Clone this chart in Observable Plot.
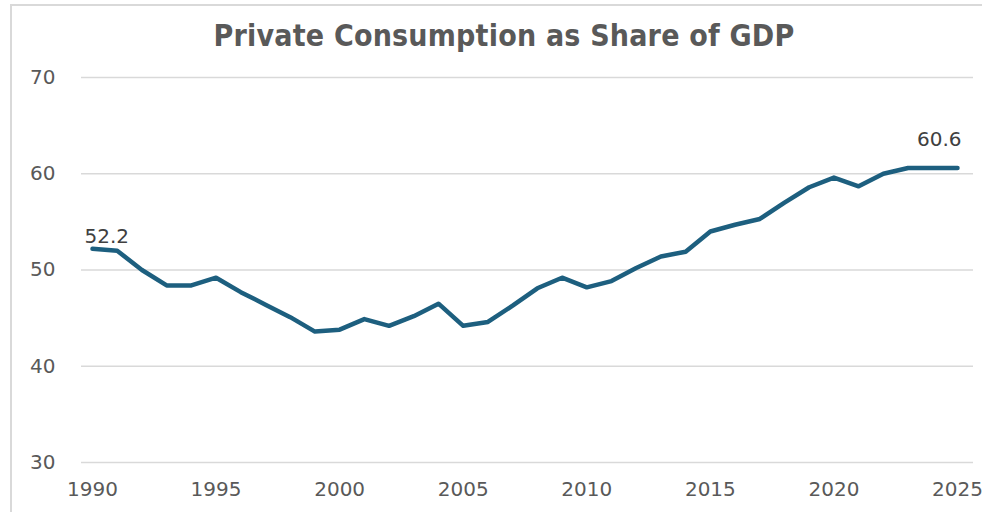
<!DOCTYPE html>
<html>
<head>
<meta charset="utf-8">
<script src="https://cdn.jsdelivr.net/npm/d3@7"></script>
<script src="https://cdn.jsdelivr.net/npm/@observablehq/plot@0.6"></script>
<style>
  html, body { margin: 0; padding: 0; background: #fff; }
  #wrap { position: relative; width: 982px; height: 512px; overflow: hidden; background: #fff; }
  #frame { position: absolute; left: 10px; top: 4px; right: -2px; bottom: -2px;
           border-top: 2px solid #d9d9d9; border-left: 2px solid #d9d9d9; }
  #title { position: absolute; left: 0; width: 1008px; top: 18px; text-align: center;
           font-family: "Liberation Sans Narrow", "DejaVu Sans Condensed", "Liberation Sans", sans-serif;
           font-weight: bold; font-size: 30px; letter-spacing: 0.2px; color: #595959; white-space: nowrap; }
  #chart { position: absolute; left: 0; top: 0; }
</style>
</head>
<body>
<div id="wrap">
  <div id="frame"></div>
  <div id="chart"></div>
  <div id="title">Private Consumption as Share of GDP</div>
</div>
<script>
const years = [1990,1991,1992,1993,1994,1995,1996,1997,1998,1999,
               2000,2001,2002,2003,2004,2005,2006,2007,2008,2009,
               2010,2011,2012,2013,2014,2015,2016,2017,2018,2019,
               2020,2021,2022,2023,2024,2025];
const share = [52.2,52.0,50.0,48.4,48.4,49.2,47.7,46.4,45.1,43.6,
               43.8,44.9,44.2,45.2,46.5,44.2,44.6,46.3,48.1,49.2,
               48.2,48.85,50.2,51.4,51.9,54.0,54.7,55.3,57.0,58.6,
               59.6,58.7,60.0,60.6,60.6,60.6];
const yTicks = [30,40,50,60,70];
const xTicks = [1990,1995,2000,2005,2010,2015,2020,2025];

const data = years.map((year, i) => ({year, value: share[i]}));
const first = data[0];
const last = data[data.length - 1];

const chart = Plot.plot({
  width: 982,
  height: 512,
  marginLeft: 81,
  marginRight: 9,
  marginTop: 77,
  marginBottom: 50,
  insetLeft: 11,
  insetRight: 16,
  style: { fontFamily: "DejaVu Sans, sans-serif", fontSize: "20px", color: "#595959", background: "transparent" },
  x: { domain: [1990, 2025] },
  y: { domain: [30, 70] },
  marks: [
    Plot.gridY({ ticks: yTicks, stroke: "#d9d9d9", strokeOpacity: 1, strokeWidth: 1.5 }),
    Plot.axisY({ ticks: yTicks, tickSize: 0, tickPadding: 26, label: null, fontSize: 20 }),
    Plot.axisX({ ticks: xTicks, tickSize: 0, tickPadding: 19, tickFormat: "d", label: null, fontSize: 20 }),
    Plot.line(data, { x: "year", y: "value", stroke: "#1d5f7f", strokeWidth: 4.5, strokeLinejoin: "round", strokeLinecap: "round" }),
    Plot.text([first], { x: "year", y: "value", text: d => d.value.toFixed(1), textAnchor: "start", dx: -8, dy: -12, fill: "#404040", fontSize: 20 }),
    Plot.text([last], { x: "year", y: "value", text: d => d.value.toFixed(1), textAnchor: "end", dx: 4, dy: -28, fill: "#404040", fontSize: 20 })
  ]
});
document.getElementById("chart").appendChild(chart);
</script>
</body>
</html>
